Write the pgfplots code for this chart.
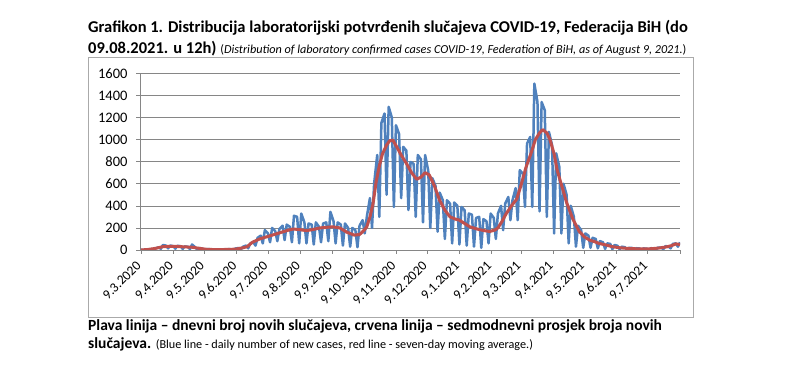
\documentclass[border=0pt]{standalone}
\usepackage{fontspec}
\setmainfont{Carlito}
\usepackage{pgfplots}
\pgfplotsset{compat=1.18}
\definecolor{xlblue}{RGB}{79,129,189}
\definecolor{xlred}{RGB}{192,80,77}
\definecolor{gridgray}{RGB}{134,134,134}
\definecolor{boxgray}{RGB}{170,170,170}
\begin{document}
\begin{tikzpicture}[x=1pt,y=1pt]
\useasboundingbox (0pt,0pt) rectangle (800pt,379pt);
\fill[white] (0pt,0pt) rectangle (800pt,379pt);
\draw[boxgray, line width=0.8pt] (88pt,61.3pt) rectangle (693pt,321.3pt);
\node[anchor=base west, inner sep=0, font=\fontsize{16.5}{18}\selectfont\bfseries] at (88pt,346.3pt) {Grafikon 1. Distribucija laboratorijski potvrđenih slučajeva COVID-19, Federacija BiH (do};
\node[anchor=base west, inner sep=0] at (88pt,325.7pt) {\fontsize{16.5}{18}\selectfont\bfseries 09.08.2021. u 12h) \fontsize{12.2}{14}\selectfont\mdseries(\itshape Distribution of laboratory confirmed cases COVID-19, Federation of BiH, as of August 9, 2021.\upshape)};
\node[anchor=base west, inner sep=0, font=\fontsize{15.5}{17}\selectfont\bfseries] at (88pt,48pt) {Plava linija – dnevni broj novih slučajeva, crvena linija – sedmodnevni prosjek broja novih};
\node[anchor=base west, inner sep=0] at (88pt,30pt) {\fontsize{15.5}{17}\selectfont\bfseries slučajeva. \fontsize{12.2}{14}\selectfont\mdseries (Blue line - daily number of new cases, red line - seven-day moving average.)};
\begin{axis}[at={(140pt,129pt)}, anchor=south west, scale only axis,
  width=540pt, height=176.7pt,
  xmin=-1, xmax=518, ymin=0, ymax=1600,
  ytick={0,200,...,1600},
  ymajorgrids, grid style={gridgray, line width=0.6pt},
  axis x line*=bottom, axis y line*=left,
  axis line style={gridgray, line width=0.6pt, -},
  tick style={gridgray, line width=0.6pt},
  tick align=outside, major tick length=4pt,
  xtick={0,31,61,92,122,153,184,214,245,275,306,337,365,396,426,457,487,518},
  xticklabels={9.3.2020,9.4.2020,9.5.2020,9.6.2020,9.7.2020,9.8.2020,9.9.2020,9.10.2020,9.11.2020,9.12.2020,9.1.2021,9.2.2021,9.3.2021,9.4.2021,9.5.2021,9.6.2021,9.7.2021,{}},
  xticklabel style={yshift=-7pt, rotate=45, anchor=east, font=\fontsize{13.5}{15}\selectfont, text=black},
  yticklabel style={font=\fontsize{14.5}{16}\selectfont, text=black, xshift=-5pt},
  /pgf/number format/assume math mode=true,
  /pgf/number format/1000 sep={},
]
\addplot[xlblue, line width=2.5pt, line join=round] coordinates {
(0,0) (2,2)
(5,0) (7,3) (10,8)
(12,3) (14,15) (17,25)
(19,10) (21,45) (24,40)
(26,15) (28,40) (31,35)
(33,12) (35,38) (38,35)
(40,10) (42,32) (45,30)
(47,8) (49,50) (52,25)
(54,4) (56,18) (59,12)
(61,1) (63,9) (66,7)
(68,0) (70,6) (73,5)
(75,1) (77,5) (80,7)
(82,1) (84,8) (87,6)
(89,2) (91,14) (94,18)
(96,5) (98,30) (101,40)
(103,15) (105,60) (108,70)
(110,40) (112,110) (115,130)
(117,60) (119,180) (122,150)
(124,70) (126,200) (129,170)
(131,80) (133,190) (136,220)
(138,90) (140,230) (143,210)
(145,70) (147,310) (150,300)
(152,60) (154,330) (157,250)
(159,60) (161,240) (164,230)
(166,50) (168,250) (171,210)
(173,70) (175,240) (178,250)
(180,80) (182,345) (185,260)
(187,60) (189,250) (192,230)
(194,40) (196,240) (199,200)
(201,30) (203,200) (206,180)
(208,25) (210,220) (213,270)
(215,150) (217,300) (220,470)
(222,200) (224,600) (227,860)
(229,300) (231,1150) (234,1236)
(236,500) (238,1296) (241,1200)
(243,390) (245,1130) (248,1050)
(250,470) (252,934) (255,900)
(257,362) (259,798) (262,780)
(264,300) (266,860) (269,820)
(271,250) (273,860) (276,720)
(278,200) (280,650) (283,580)
(285,166) (287,520) (290,452)
(292,100) (294,450) (297,420)
(299,60) (301,430) (304,400)
(306,50) (308,390) (311,360)
(313,40) (315,330) (318,320)
(320,30) (322,290) (325,300)
(327,20) (329,280) (332,260)
(334,60) (336,330) (339,290)
(341,100) (343,330) (346,400)
(348,180) (350,420) (353,480)
(355,270) (357,450) (360,560)
(362,270) (364,723) (367,690)
(369,391) (371,964) (374,1024)
(376,391) (378,1507) (381,1340)
(383,350) (385,1340) (388,1266)
(390,300) (392,1070) (395,950)
(397,150) (399,875) (402,753)
(404,150) (406,600) (409,500)
(411,60) (413,400) (416,300)
(418,30) (420,220) (423,180)
(425,20) (427,150) (430,130)
(432,20) (434,110) (437,100)
(439,15) (441,80) (444,70)
(446,10) (448,60) (451,55)
(453,8) (455,45) (458,38)
(460,5) (462,30) (465,25)
(467,3) (469,20) (472,18)
(474,3) (476,16) (479,14)
(481,3) (483,14) (486,12)
(488,3) (490,16) (493,15)
(495,5) (497,22) (500,20)
(502,8) (504,35) (507,32)
(509,15) (511,55) (514,60)
(516,30) (518,70)
};
\addplot[xlred, line width=3pt, line join=round] coordinates {
(0,0) (7,5) (14,15) (21,30) (28,33) (35,32) (42,28) (49,25) (56,15) (63,6)
(70,4) (77,4) (84,5) (91,8) (98,20) (102,30) (107,70) (114,100) (121,120)
(128,140) (133,155) (140,175) (146,190) (152,185) (159,175) (165,185)
(172,200) (178,205) (184,210) (191,200) (198,160) (205,135) (210,140)
(214,175) (217,210) (220,300) (223,420) (226,620) (229,760) (232,870)
(236,950) (239,990) (242,995) (246,930) (250,860) (255,785) (260,700)
(265,640) (269,660) (273,700) (277,680) (282,580) (287,450) (292,360)
(297,300) (302,280) (306,270) (311,240) (316,210) (321,195) (325,185)
(330,175) (335,168) (340,180) (343,200) (347,260) (351,330) (356,400)
(361,460) (365,580) (370,750) (375,880) (379,1000) (383,1060) (386,1090)
(390,1060) (393,1000) (397,870) (400,720) (405,560) (409,430) (415,280)
(421,170) (426,120) (431,90) (436,75) (440,60) (447,45) (453,30) (460,20)
(467,15) (472,12) (480,10) (487,10) (491,12) (498,18) (505,28) (510,40)
(514,55) (518,50)
};
\end{axis}
\end{tikzpicture}
\end{document}
